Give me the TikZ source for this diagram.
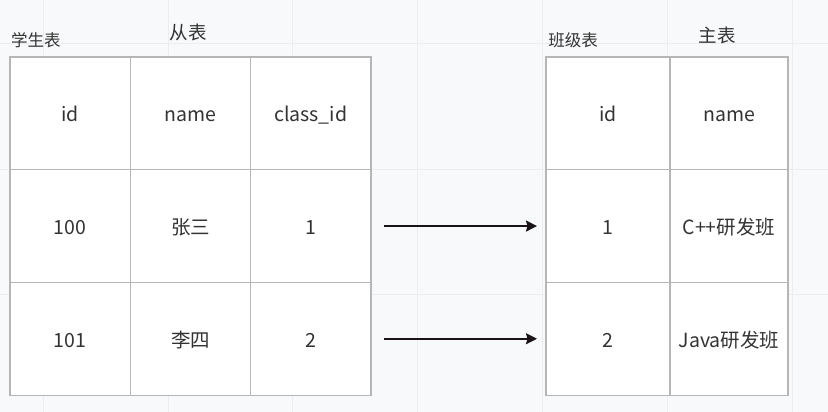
\documentclass[tikz,border=0pt]{standalone}
\usepackage{fontspec}
\setmainfont{Noto Sans CJK SC}
\usetikzlibrary{arrows.meta, positioning}
\definecolor{canvas}{RGB}{248,249,250}
\definecolor{gridline}{RGB}{236,237,240}
\definecolor{cellline}{RGB}{182,182,182}
\definecolor{ink}{RGB}{51,51,51}
\definecolor{arrowink}{RGB}{26,20,24}

\begin{document}
\begin{tikzpicture}[x=1pt, y=-1pt, font=\fontsize{19.5}{22}\selectfont, text=ink,
    cell/.style={draw=cellline, line width=1.2pt, fill=white,
                 minimum height=112.7pt, inner sep=0pt, outer sep=0pt,
                 text height=17pt, text depth=0pt},
    tabname/.style={font=\fontsize{16.5}{19}\selectfont},
    role/.style={font=\fontsize{18.5}{21}\selectfont},
    link/.style={line width=2pt, draw=arrowink,
                 -{Stealth[length=11pt, width=11pt, inset=1.5pt]},
                 shorten <=13pt, shorten >=9pt}]
  % canvas and grid
  \fill[canvas] (0,0) rectangle (828,412);
  \useasboundingbox (0,0) rectangle (828,412);
  \foreach \x in {43,168,292,417,542,667,792}
    \draw[gridline, line width=1pt] (\x,0) -- (\x,412);
  \foreach \y in {44,169,294}
    \draw[gridline, line width=1pt] (0,\y) -- (828,\y);

  % student table
  \node[tabname] (stutitle) at (36,40) {学生表};
  \node[role] (slave) at (188,32) {从表};
  \foreach \r/\a/\b/\c in {1/id/name/class\_id, 2/100/张三/1, 3/101/李四/2} {
    \pgfmathsetmacro{\yc}{57+112.7*\r-56.35}
    \node[cell, minimum width=120.3pt] (s\r1) at (70.2,\yc) {\a};
    \node[cell, minimum width=120.3pt] (s\r2) at (190.5,\yc) {\b};
    \node[cell, minimum width=120.3pt] (s\r3) at (310.8,\yc) {\c};
  }

  % class table
  \node[tabname] (clstitle) at (573,40) {班级表};
  \node[role] (master) at (717,35) {主表};
  \foreach \r/\a/\b in {1/id/name, 2/1/C++研发班, 3/2/Java研发班} {
    \pgfmathsetmacro{\yc}{57+112.7*\r-56.35}
    \node[cell, minimum width=124pt] (c\r1) at (608,\yc) {\a};
    \node[cell, minimum width=118pt] (c\r2) at (729,\yc) {\b};
  }

  % foreign key links
  \draw[link] (s23) -- (c21);
  \draw[link] (s33) -- (c31);
\end{tikzpicture}
\end{document}
